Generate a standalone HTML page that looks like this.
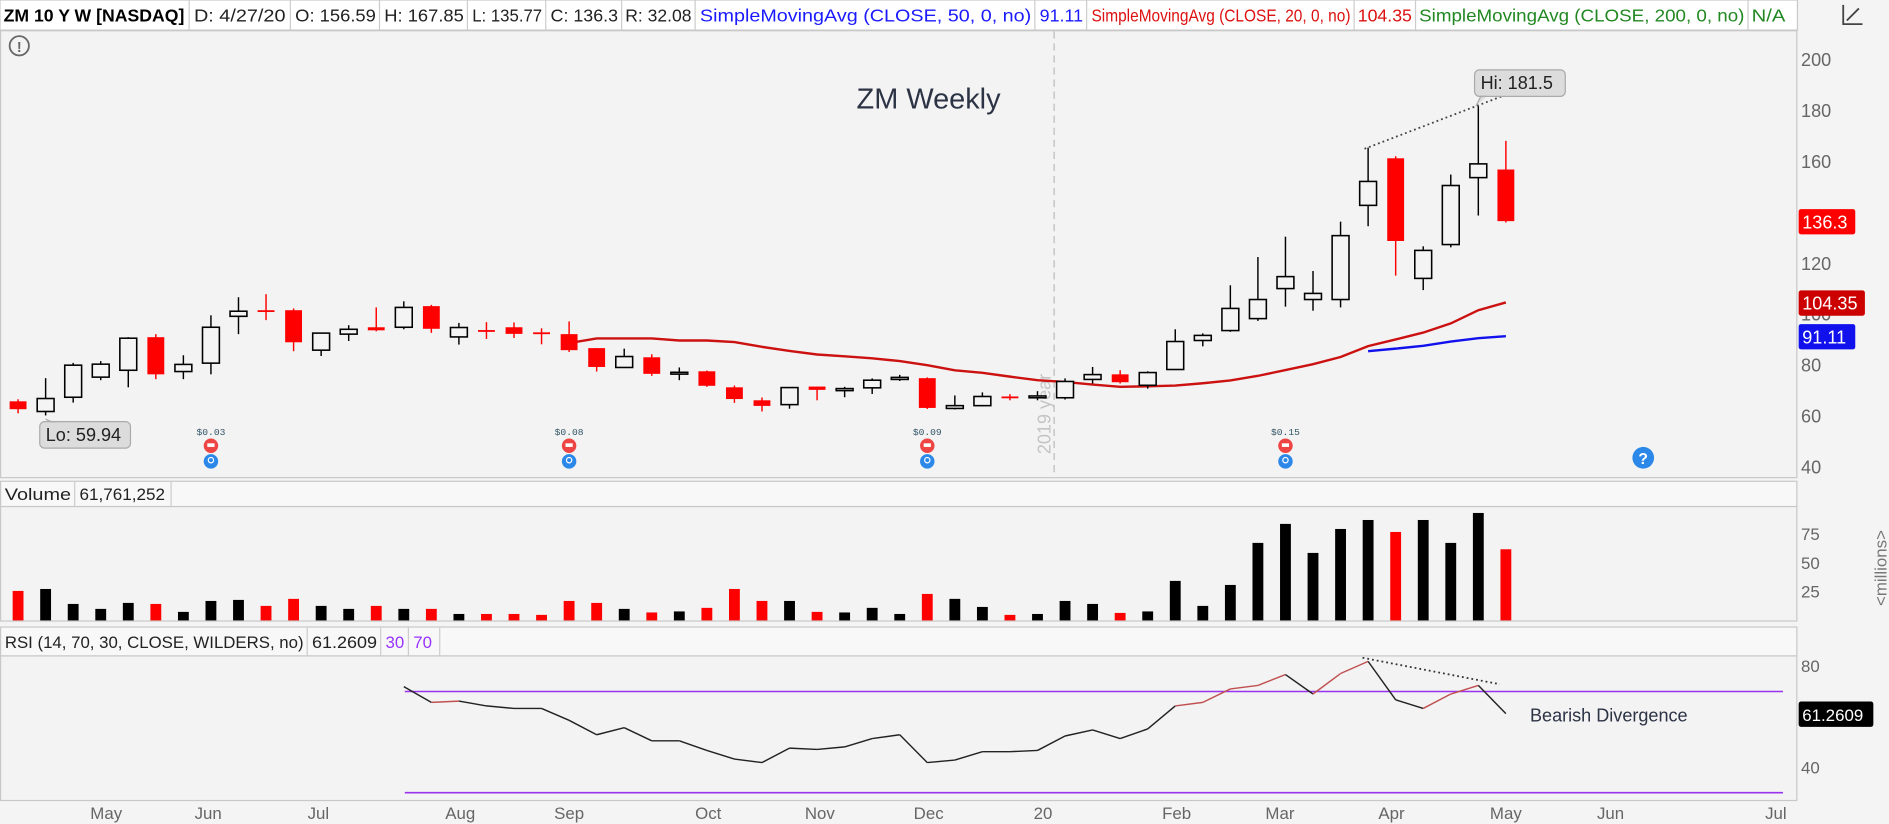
<!DOCTYPE html>
<html><head><meta charset="utf-8"><style>
html,body{margin:0;padding:0;background:#f4f4f4;}
svg{display:block;font-family:"Liberation Sans",sans-serif;}
</style></head><body>
<svg id="c" width="1889" height="824" viewBox="0 0 1568 684" preserveAspectRatio="none" xmlns="http://www.w3.org/2000/svg">
<rect x="0" y="0" width="1568" height="684" fill="#f4f4f4"/>
<g font-size="14.5">
<rect x="0" y="0" width="1492" height="25" fill="#ffffff" stroke="#c8c8c8"/>
<text x="3" y="18" font-weight="bold" textLength="150" lengthAdjust="spacingAndGlyphs" fill="#000">ZM 10 Y W [NASDAQ]</text>
<line x1="157" y1="0" x2="157" y2="25" stroke="#ccc"/>
<text x="161" y="18" textLength="76" lengthAdjust="spacingAndGlyphs" fill="#222">D: 4/27/20</text>
<line x1="241" y1="0" x2="241" y2="25" stroke="#ccc"/>
<text x="245" y="18" textLength="67" lengthAdjust="spacingAndGlyphs" fill="#222">O: 156.59</text>
<line x1="315" y1="0" x2="315" y2="25" stroke="#ccc"/>
<text x="319" y="18" textLength="66" lengthAdjust="spacingAndGlyphs" fill="#222">H: 167.85</text>
<line x1="388" y1="0" x2="388" y2="25" stroke="#ccc"/>
<text x="392" y="18" textLength="58" lengthAdjust="spacingAndGlyphs" fill="#222">L: 135.77</text>
<line x1="453" y1="0" x2="453" y2="25" stroke="#ccc"/>
<text x="457" y="18" textLength="56" lengthAdjust="spacingAndGlyphs" fill="#222">C: 136.3</text>
<line x1="516" y1="0" x2="516" y2="25" stroke="#ccc"/>
<text x="519" y="18" textLength="55" lengthAdjust="spacingAndGlyphs" fill="#222">R: 32.08</text>
<line x1="577" y1="0" x2="577" y2="25" stroke="#ccc"/>
<text x="581" y="18" textLength="275" lengthAdjust="spacingAndGlyphs" fill="#1a1aff">SimpleMovingAvg (CLOSE, 50, 0, no)</text>
<line x1="859" y1="0" x2="859" y2="25" stroke="#ccc"/>
<text x="863" y="18" textLength="36" lengthAdjust="spacingAndGlyphs" fill="#1a1aff">91.11</text>
<line x1="902" y1="0" x2="902" y2="25" stroke="#ccc"/>
<text x="906" y="18" textLength="215" lengthAdjust="spacingAndGlyphs" fill="#d11">SimpleMovingAvg (CLOSE, 20, 0, no)</text>
<line x1="1124" y1="0" x2="1124" y2="25" stroke="#ccc"/>
<text x="1127" y="18" textLength="45" lengthAdjust="spacingAndGlyphs" fill="#d11">104.35</text>
<line x1="1175" y1="0" x2="1175" y2="25" stroke="#ccc"/>
<text x="1178" y="18" textLength="270" lengthAdjust="spacingAndGlyphs" fill="#228822">SimpleMovingAvg (CLOSE, 200, 0, no)</text>
<line x1="1451" y1="0" x2="1451" y2="25" stroke="#ccc"/>
<text x="1454" y="18" textLength="28" lengthAdjust="spacingAndGlyphs" fill="#228822">N/A</text>
</g>
<g><rect x="1498" y="0" width="70" height="25" fill="#f4f4f4"/><path d="M1530 4 L1530 20 L1546 20 M1533 17 L1543 7" stroke="#444" stroke-width="1.5" fill="none"/></g>
<rect x="0.5" y="25.5" width="1491" height="371" fill="#f3f3f3" stroke="#c8c8c8"/>
<g><circle cx="16" cy="38" r="8" fill="none" stroke="#666" stroke-width="1.5"/><text x="16" y="43" font-size="12" font-weight="bold" text-anchor="middle" fill="#666">!</text></g>
<text x="711" y="90" font-size="24" fill="#2c3345">ZM Weekly</text>
<line x1="875" y1="26" x2="875" y2="395" stroke="#bbb" stroke-dasharray="6,4"/>
<text transform="translate(872,377) rotate(-90)" font-size="15" fill="#c4c4c4">2019 year</text>
<g id="price"></g>
<rect x="0.5" y="399.5" width="1491" height="21" fill="#f8f8f8" stroke="#c8c8c8"/>
<text x="4" y="415" font-size="14" textLength="55" lengthAdjust="spacingAndGlyphs" fill="#222">Volume</text>
<line x1="62" y1="400" x2="62" y2="420" stroke="#ccc"/>
<text x="66" y="415" font-size="14" textLength="71" lengthAdjust="spacingAndGlyphs" fill="#222">61,761,252</text>
<line x1="142" y1="400" x2="142" y2="420" stroke="#ccc"/>
<rect x="0.5" y="420.5" width="1491" height="95" fill="#f3f3f3" stroke="#c8c8c8"/>
<text transform="translate(1566,503) rotate(-90)" font-size="14" fill="#777">&lt;millions&gt;</text>
<g id="vol"></g>
<rect x="0.5" y="520.5" width="1491" height="24" fill="#f8f8f8" stroke="#c8c8c8"/>
<text x="4" y="538" font-size="14" textLength="248" lengthAdjust="spacingAndGlyphs" fill="#222">RSI (14, 70, 30, CLOSE, WILDERS, no)</text>
<line x1="255" y1="521" x2="255" y2="544" stroke="#ccc"/>
<text x="259" y="538" font-size="14" textLength="54" lengthAdjust="spacingAndGlyphs" fill="#222">61.2609</text>
<line x1="316" y1="521" x2="316" y2="544" stroke="#ccc"/>
<text x="320" y="538" font-size="14" fill="#9933ff">30</text>
<line x1="339" y1="521" x2="339" y2="544" stroke="#ccc"/>
<text x="343" y="538" font-size="14" fill="#9933ff">70</text>
<line x1="365" y1="521" x2="365" y2="544" stroke="#ccc"/>
<rect x="0.5" y="544.5" width="1491" height="120" fill="#f3f3f3" stroke="#c8c8c8"/>
<g id="rsi"></g>
<text x="1270" y="599" font-size="15" fill="#2c3345">Bearish Divergence</text>
<g id="xaxis"></g>
</svg>
<script>
const weeks = ['4/15/19','4/22/19','4/29/19','5/6/19','5/13/19','5/20/19','5/27/19','6/3/19','6/10/19','6/17/19','6/24/19','7/1/19','7/8/19','7/15/19','7/22/19','7/29/19','8/5/19','8/12/19','8/19/19','8/26/19','9/2/19','9/9/19','9/16/19','9/23/19','9/30/19','10/7/19','10/14/19','10/21/19','10/28/19','11/4/19','11/11/19','11/18/19','11/25/19','12/2/19','12/9/19','12/16/19','12/23/19','12/30/19','1/6/20','1/13/20','1/20/20','1/27/20','2/3/20','2/10/20','2/17/20','2/24/20','3/2/20','3/9/20','3/16/20','3/23/20','3/30/20','4/6/20','4/13/20','4/20/20','4/27/20'];
const opens  = [65.5,61.5,67.1,75,77.7,90.7,77.2,80.5,98.9,101.3,101.3,85.6,91.9,94.6,94.6,102.9,90.8,93.5,94.6,92.6,91.9,86.4,78.8,82.8,76.5,77.3,71,65.9,64.2,71.3,69.7,70.8,74.1,74.6,62.7,63.8,67.4,67,66.9,74.1,76.1,71.8,78,89.4,93.3,98,109.8,105.5,105.5,142.5,161,113.8,127.1,153.4,156.59];
const highs  = [66.3,74.6,80.6,81.3,90.7,91.9,83.6,99.3,106.4,107.6,102,92.3,95.4,102.4,104.8,103.4,96.3,96.6,96.5,94.2,96.9,86.4,86.2,84,78.8,77.6,71.7,67,70.9,71.3,71.2,74.5,75.9,74.9,67.8,69,68.3,69.5,74.5,79,77.7,77.3,93.8,92.2,111.1,122.2,130.2,116.7,136.1,165.2,161.8,126.4,154.6,181.5,167.85];
const lows   = [60.8,59.94,65,73.8,71,74.2,74.2,76.1,91.9,97.4,85.2,83.3,89.2,93,93.8,92.4,87.8,90,90.4,87.9,84.9,77.2,78.8,75.5,73.8,71.2,64.9,61.5,62.6,65.9,67.1,68.4,73.5,62.5,62.3,63.5,65.9,65.9,66.2,72.5,72.5,70.5,78,87.1,92.8,97.1,102.7,101.1,102.4,134.3,114.9,109.2,126,138.5,135.77];
const closes = [62.4,66.6,79.7,80.1,90.3,76.1,80,94.6,100.9,100.7,88.7,92.3,93.8,93.4,102.4,94,94.5,93.1,92,92.2,85.6,79,83.1,76.3,76.9,71.6,66.4,63.7,70.9,70,70.5,73.8,74.9,62.9,63.8,67.4,67,67.6,73.3,76,73,76.8,89,91.4,102,105.5,114.5,107.9,130.6,151.9,128.5,124.8,150.3,158.8,136.3];
const volumes = [25.6,27.3,14.3,10,15.2,14.3,7.4,16.9,17.8,12.6,18.7,12.6,10,12.6,10,10,5.6,5.6,5.6,4.8,16.9,15.2,10,6.9,7.8,10.9,27.3,16.9,16.9,7.4,6.9,10.9,5.6,23,18.7,11.7,4.8,5.6,16.9,14.3,6.5,7.8,34.3,12.6,30.8,67.3,83.8,58.6,79.4,87.2,76.8,87.2,67.3,93.3,61.76];
const sma20Start = 20;
const sma20 = [88.4,90.2,90.2,90.2,89.4,89.4,88.8,86.9,85.3,83.9,83.2,82.4,81.3,79.7,77.7,76.7,75.2,73.8,73.1,72.1,71.2,71.4,71.7,72.6,73.7,75.5,77.8,80.1,82.9,87.2,89.8,92.5,96.1,101.3,104.35];
const sma50Start = 49;
const sma50 = [85.2,86.2,87.3,89.0,90.3,91.11];
const rsiStart = 14;
const rsi = [71.9,65.7,66.2,64.3,63.3,63.3,58.6,52.9,55.7,50.5,50.5,46.7,43.3,41.9,47.6,47.1,48.1,51.4,52.9,41.9,42.9,46.2,46.2,46.7,52.4,54.8,51.4,55.2,64.3,65.7,71,72.4,76.7,69,77.1,81.9,66.7,63.3,69,72.4,61.26];
const priceTicks = [200,180,160,140,120,100,80,60,40];
const volTicks = [75,50,25];
const rsiTicks = [80,40];
const months = ['May','Jun','Jul','Aug','Sep','Oct','Nov','Dec','20','Feb','Mar','Apr','May','Jun','Jul'];
const monthWeek = [3.2,6.9,10.9,16.05,20.0,25.05,29.1,33.05,37.2,42.05,45.8,49.85,54.0,57.8,63.8];
const dividendWeeks = [7,20,33,46];
const dividendLabels = ['$0.03','$0.08','$0.09','$0.15'];

const NS='http://www.w3.org/2000/svg';
const xOf=i=>15+i*22.87;
const yP=p=>387-(p-40)*2.1125;
const yV=v=>515-v*0.956;
const yR=r=>553+(80-r)*2.1;
function mk(tag,attrs,parent){const e=document.createElementNS(NS,tag);for(const k in attrs)e.setAttribute(k,attrs[k]);parent.appendChild(e);return e;}
const gP=document.getElementById('price'),gV=document.getElementById('vol'),gR=document.getElementById('rsi'),gX=document.getElementById('xaxis');

priceTicks.forEach(t=>{if(t===140)return;const e=mk('text',{x:1495,y:yP(t)+6,'font-size':15,fill:'#666'},gP);e.textContent=t;

});
const s20=mk('polyline',{points:sma20.map((v,k)=>xOf(sma20Start+k)+','+yP(v)).join(' '),fill:'none',stroke:'#cc1111','stroke-width':2},gP);


const s50=mk('polyline',{points:sma50.map((v,k)=>xOf(sma50Start+k)+','+yP(v)).join(' '),fill:'none',stroke:'#1111ee','stroke-width':2},gP);


opens.forEach((o,i)=>{const c=closes[i],up=c>=o,x=xOf(i),col=up?'#000':'#ff0000';
const g=mk('g',{},gP);


mk('line',{x1:x,y1:yP(highs[i]),x2:x,y2:yP(lows[i]),stroke:col,'stroke-width':1.2},g);
const top=yP(Math.max(o,c)),h=Math.max(1.5,yP(Math.min(o,c))-top);
if(up)mk('rect',{x:x-7,y:top,width:14,height:h,fill:'#f4f4f4',stroke:'#000','stroke-width':1.3},g);
else mk('rect',{x:x-7,y:top,width:14,height:h,fill:'#ff0000'},g);});
const ih=highs.indexOf(Math.max(...highs));
const tl=mk('line',{x1:xOf(49)-3,y1:yP(highs[49])+1,x2:xOf(ih)+27,y2:yP(highs[ih])-11,stroke:'#444','stroke-width':1.5,'stroke-dasharray':'1.5,2.5'},gP);


const il=lows.indexOf(Math.min(...lows));
function callout(x,y,txt,name,tx,ty){const g=mk('g',{},gP);


mk('rect',{x:x,y:y,width:txt.length*7.7+6,height:22,rx:4,fill:'#dcdcdc',stroke:'#aaa'},g);
mk('path',{d:`M${tx-4} ${ty} L${tx} ${ty>y?y+22:y} L${tx+5} ${ty>y?y+22:y}`,fill:'#dcdcdc',stroke:'#aaa'},g);
const t=mk('text',{x:x+5,y:y+16,'font-size':15,fill:'#222'},g);t.textContent=txt;}
callout(33,350,'Lo: '+lows[il],'low-callout',xOf(il)+4,yP(lows[il])+3);
callout(1224,58,'Hi: '+highs[ih],'high-callout',xOf(ih)+2,yP(highs[ih]));
function badge(v,txt,col,name,w){const g=mk('g',{},gP);


mk('rect',{x:1493,y:yP(v)-10,width:w,height:21,rx:2,fill:col},g);
const t=mk('text',{x:1496,y:yP(v)+6,'font-size':15,fill:'#fff'},g);t.textContent=txt;}
badge(closes[closes.length-1],String(closes[closes.length-1]),'#ff0000','last-price-badge',47);
badge(sma20[sma20.length-1],String(sma20[sma20.length-1]),'#cc0000','sma20-badge',55);
badge(sma50[sma50.length-1],String(sma50[sma50.length-1]),'#1111ee','sma50-badge',47);
dividendWeeks.forEach((wi,k)=>{const x=xOf(wi);const g=mk('g',{},gP);


const t=mk('text',{x:x,y:361,'font-size':8,'text-anchor':'middle',fill:'#356','font-family':'Liberation Mono, monospace'},g);t.textContent=dividendLabels[k];
mk('circle',{cx:x,cy:370,r:6,fill:'#e44'},g);mk('rect',{x:x-3,y:368,width:6,height:3,fill:'#fff'},g);
mk('circle',{cx:x,cy:383,r:6,fill:'#2b87e8'},g);mk('circle',{cx:x,cy:382,r:2.2,fill:'none',stroke:'#fff'},g);});
const q=mk('g',{},gP);


mk('circle',{cx:1364,cy:380,r:9,fill:'#2b87e8'},q);const qt=mk('text',{x:1364,y:385,'font-size':13,'font-weight':'bold','text-anchor':'middle',fill:'#fff'},q);qt.textContent='?';
volTicks.forEach(t=>{const e=mk('text',{x:1495,y:yV(t)+5,'font-size':14,fill:'#666'},gV);e.textContent=t;

});
volumes.forEach((v,i)=>{const r=mk('rect',{x:xOf(i)-4.5,y:yV(v),width:9,height:515-yV(v),fill:closes[i]>=opens[i]?'#000':'#ff0000'},gV);

});
rsiTicks.forEach(t=>{const e=mk('text',{x:1495,y:yR(t)+5,'font-size':14,fill:'#666'},gR);e.textContent=t;

});
[70,30].forEach(l=>{const e=mk('line',{x1:336,y1:yR(l),x2:1480,y2:yR(l),stroke:'#9933ee','stroke-width':1.3},gR);

});
for(let k=1;k<rsi.length;k++){const up=rsi[k]>rsi[k-1]&&rsi[k]>62&&rsi[k-1]>60;
const s=mk('line',{x1:xOf(rsiStart+k-1),y1:yR(rsi[k-1]),x2:xOf(rsiStart+k),y2:yR(rsi[k]),stroke:up?'#c05050':'#222','stroke-width':1.2},gR);

}
const rt=mk('line',{x1:1131,y1:546,x2:1245,y2:568,stroke:'#333','stroke-width':1.5,'stroke-dasharray':'1.5,2.5'},gR);


const rb=mk('g',{},gR);


mk('rect',{x:1493,y:yR(rsi[rsi.length-1])-10,width:62,height:21,rx:2,fill:'#000'},rb);
const rbt=mk('text',{x:1496,y:yR(rsi[rsi.length-1])+6,'font-size':14,fill:'#fff'},rb);rbt.textContent='61.2609';
months.forEach((m,k)=>{const e=mk('text',{x:xOf(monthWeek[k]),y:680,'font-size':14,'text-anchor':'middle',fill:'#666'},gX);e.textContent=m;

});
</script>
</body></html>
